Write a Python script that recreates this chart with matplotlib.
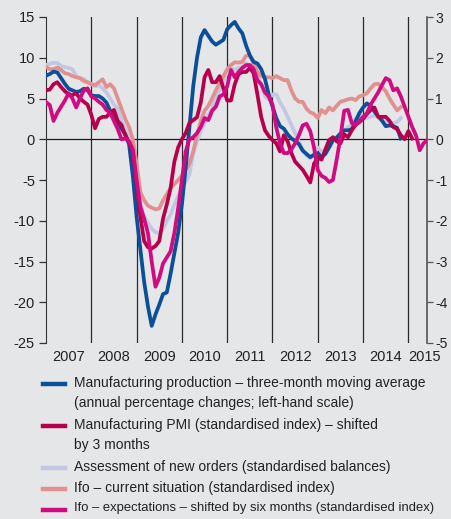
import numpy as np
import matplotlib
matplotlib.use("Agg")
from matplotlib import pyplot as plt
from matplotlib.lines import Line2D

plt.rcParams["font.family"] = ["Liberation Sans Narrow", "Liberation Sans", "DejaVu Sans"]
plt.rcParams["font.size"] = 10

# monthly observations, first value = January 2007
start_year = 2007

# manufacturing production, 3m moving average, annual % change (left-hand scale)
production = [
    7.8, 8.0, 8.3, 8.2, 7.5, 6.8, 6.2, 6.0, 5.8, 5.9, 6.2, 6.0,
    5.4, 5.3, 5.3, 5.0, 4.5, 3.5, 2.7, 1.9, 1.3, 0.6, -0.6, -4.5,
    -9.5, -13.5, -17.5, -20.5, -22.9, -21.5, -20.3, -19.0, -18.8, -16.5, -14.0, -11.5,
    -8.0, -3.5, 1.5, 6.5, 10.0, 12.5, 13.4, 12.7, 12.0, 11.6, 11.9, 12.2,
    13.5, 14.0, 14.4, 13.6, 13.0, 11.5, 10.3, 9.5, 9.3, 8.6, 7.4, 5.5,
    4.0, 2.6, 1.6, 1.3, 0.6, 0.1, -0.2, -0.6, -1.4, -1.8, -2.2, -1.9,
    -1.7, -2.2, -1.8, -1.0, -0.1, 0.2, 0.7, 1.1, 1.1, 1.2, 2.2, 3.2,
    3.9, 4.4, 4.1, 3.4, 2.8, 2.3, 1.6, 1.7, 1.6, 1.4, 0.1,
]

# manufacturing PMI, standardised, shifted by 3 months (right-hand scale)
pmi = [
    1.2, 1.22, 1.35, 1.4, 1.28, 1.18, 1.1, 1.08, 1.13, 1.0, 0.92, 0.85,
    0.6, 0.27, 0.5, 0.55, 0.55, 0.65, 0.72, 0.45, 0.35, 0.1, -0.08, -0.3,
    -1.1, -1.9, -2.5, -2.65, -2.68, -2.62, -2.5, -1.95, -1.6, -1.2, -0.55, -0.2,
    0.0, 0.15, 0.4, 0.47, 0.54, 0.9, 1.52, 1.7, 1.4, 1.4, 1.55, 1.25,
    0.95, 0.95, 1.35, 1.6, 1.65, 1.65, 1.75, 1.62, 1.1, 0.55, 0.22, 0.08,
    -0.02, -0.1, -0.3, 0.1, -0.05, -0.34, -0.55, -0.65, -0.75, -0.9, -1.06, -0.6,
    -0.45, -0.5, -0.25, -0.02, 0.05, -0.05, -0.1, 0.12, 0.05, 0.22, 0.35, 0.42,
    0.5, 0.62, 0.72, 0.78, 0.55, 0.55, 0.55, 0.45, 0.3, 0.25, 0.1, 0.0,
    0.2, 0.02,
]

# assessment of new orders, standardised balances (right-hand scale)
new_orders = [
    1.82, 1.85, 1.88, 1.87, 1.8, 1.77, 1.75, 1.72, 1.55, 1.5, 1.48, 1.4,
    1.36, 1.3, 1.32, 1.25, 1.15, 1.0, 0.85, 0.75, 0.45, 0.25, 0.0, -0.5,
    -1.1, -1.6, -1.9, -2.05, -2.2, -2.28, -2.31, -2.2, -2.0, -1.85, -1.6, -1.4,
    -1.2, -1.05, -0.85, -0.35, -0.05, 0.2, 0.4, 0.6, 0.75, 1.05, 1.2, 1.42,
    1.65, 1.75, 1.7, 1.75, 1.78, 1.87, 1.8, 1.7, 1.55, 1.35, 1.05, 0.98,
    1.1, 1.1, 0.9, 0.75, 0.55, 0.35, 0.15, -0.05, -0.25, -0.4, -0.47, -0.35,
    -0.2, -0.3, -0.27, -0.2, -0.05, 0.05, 0.15, 0.2, 0.3, 0.35, 0.5, 0.58,
    0.55, 0.52, 0.55, 0.58, 0.55, 0.45, 0.42, 0.39, 0.4, 0.42, 0.52,
]

# Ifo current situation, standardised (right-hand scale)
ifo_current = [
    1.77, 1.72, 1.72, 1.76, 1.7, 1.62, 1.6, 1.55, 1.52, 1.5, 1.43, 1.4,
    1.35, 1.33, 1.4, 1.47, 1.28, 1.35, 1.25, 1.0, 0.75, 0.5, 0.3, 0.0,
    -0.6, -1.3, -1.5, -1.63, -1.68, -1.72, -1.7, -1.5, -1.35, -1.2, -1.1, -1.0,
    -0.9, -0.75, -0.6, -0.3, 0.1, 0.45, 0.7, 0.82, 1.0, 1.2, 1.38, 1.55,
    1.72, 1.82, 1.89, 1.88, 1.9, 2.05, 2.05, 1.85, 1.65, 1.55, 1.52, 1.52,
    1.5, 1.55, 1.5, 1.45, 1.45, 1.2, 1.0, 0.92, 0.92, 0.75, 0.66, 0.62,
    0.52, 0.72, 0.64, 0.78, 0.71, 0.82, 0.92, 0.95, 0.98, 1.0, 0.96, 1.05,
    1.08, 1.13, 1.25, 1.35, 1.36, 1.28, 1.18, 1.0, 0.85, 0.71, 0.79,
]

# Ifo expectations, standardised, shifted by six months (right-hand scale)
ifo_expect = [
    0.91, 0.84, 0.45, 0.65, 0.8, 0.95, 1.13, 1.0, 0.78, 1.0, 1.2, 1.25,
    1.05, 1.0, 0.92, 0.85, 0.72, 0.65, 0.45, 0.25, 0.0, 0.02, -0.05, -0.25,
    -1.0, -1.65, -1.95, -2.3, -3.0, -3.62, -3.4, -3.05, -2.9, -2.75, -2.3, -1.7,
    -1.0, -0.3, 0.0, 0.05, 0.15, 0.3, 0.52, 0.47, 0.7, 0.8, 1.05, 1.1,
    1.3, 1.7, 1.52, 1.65, 1.75, 1.82, 1.82, 1.72, 1.45, 1.35, 1.15, 1.05,
    0.85, 0.29, -0.1, -0.34, -0.34, -0.25, -0.1, 0.1, 0.34, 0.38, 0.2, -0.2,
    -0.76, -0.9, -0.95, -1.05, -1.0, -0.5, 0.05, 0.7, 0.72, 0.4, 0.35, 0.45,
    0.55, 0.64, 0.85, 1.0, 1.15, 1.33, 1.5, 1.45, 1.2, 1.25, 1.05, 0.8,
    0.55, 0.3, 0.1, -0.27, -0.1, -0.02,
]

year_labels = ["2007", "2008", "2009", "2010", "2011", "2012", "2013", "2014", "2015"]
left_ticks = [15, 10, 5, 0, -5, -10, -15, -20, -25]
right_ticks = [3, 2, 1, 0, -1, -2, -3, -4, -5]

legend_texts = [
    "Manufacturing production \u2013 three-month moving average\n(annual percentage changes; left-hand scale)",
    "Manufacturing PMI (standardised index) \u2013 shifted\nby 3 months",
    "Assessment of new orders (standardised balances)",
    "Ifo \u2013 current situation (standardised index)",
    "Ifo \u2013 expectations \u2013 shifted by six months (standardised index)",
]

C_BLUE = "#0b4f98"
C_PMI = "#b7004c"
C_ORDERS = "#c2c8e2"
C_CURRENT = "#e0918f"
C_EXPECT = "#d20a82"
BG = "#e5e6e8"


def months(series):
    return start_year + np.arange(len(series)) / 12.0


W, H = 452, 519
fig = plt.figure(figsize=(W / 100, H / 100), dpi=100, facecolor=BG)
ax = fig.add_axes([46 / W, 1 - 343 / H, (427 - 46) / W, (343 - 17) / H])
ax.set_facecolor(BG)
ax2 = ax.twinx()

x_end = start_year + (427 - 46) / 45.3
ax.set_xlim(start_year, x_end)
ax.set_ylim(-25, 15)
ax2.set_ylim(-5, 3)

lw = 2.7
ax2.plot(months(new_orders), new_orders, color=C_ORDERS, lw=lw, zorder=2)
ax2.plot(months(ifo_current), ifo_current, color=C_CURRENT, lw=lw, zorder=3)
ax2.plot(months(production), np.array(production) / 5.0, color=C_BLUE, lw=lw, zorder=4)
ax2.plot(months(pmi), pmi, color=C_PMI, lw=lw, zorder=5)
ax2.plot(months(ifo_expect), ifo_expect, color=C_EXPECT, lw=lw, zorder=6)

# year separators and zero line
for k in range(1, len(year_labels)):
    ax.axvline(start_year + k, color="#2a2a2a", lw=0.9, zorder=1)
ax.axhline(0, color="#1a1a1a", lw=0.9, zorder=1)

for s in ["top", "bottom"]:
    ax.spines[s].set_visible(False)
    ax2.spines[s].set_visible(False)
ax.spines["right"].set_visible(False)
ax.spines["left"].set_color("#333333")
ax2.spines["left"].set_visible(False)
ax2.spines["right"].set_color("#555555")
ax2.spines["right"].set_linewidth(1.2)

ax.set_yticks(left_ticks)
ax.set_yticklabels([str(t) for t in left_ticks], fontsize=10.5, color="#222222")
ax.tick_params(axis="y", direction="out", length=5, width=0.9, color="#333333", pad=3)
ax2.set_yticks(right_ticks)
ax2.set_yticklabels([str(t) for t in right_ticks], fontsize=10, color="#222222")
ax2.tick_params(axis="y", direction="out", length=4, width=0.9, color="#555555", pad=2)

ax.set_xticks([])
for k, lab in enumerate(year_labels):
    xc = start_year + k + 0.5 if k < len(year_labels) - 1 else start_year + k + 0.35
    ax.text(xc, -25.9, lab, ha="center", va="top", fontsize=10.5, color="#222222")

# legend drawn by hand
ys = [384, 426, 468, 489, 509.5]
sizes = [10, 10, 10, 10, 9.4]
colors = [C_BLUE, C_PMI, C_ORDERS, C_CURRENT, C_EXPECT]
for y, c, t, fs in zip(ys, colors, legend_texts, sizes):
    fig.add_artist(Line2D([43 / W, 65 / W], [1 - y / H, 1 - y / H], color=c, lw=3.2,
                          transform=fig.transFigure))
    fig.text(74 / W, 1 - (y - 8) / H, t, ha="left", va="top", fontsize=fs,
             color="#222222", linespacing=1.55)

fig.savefig("out.png", dpi=100, facecolor=BG)
